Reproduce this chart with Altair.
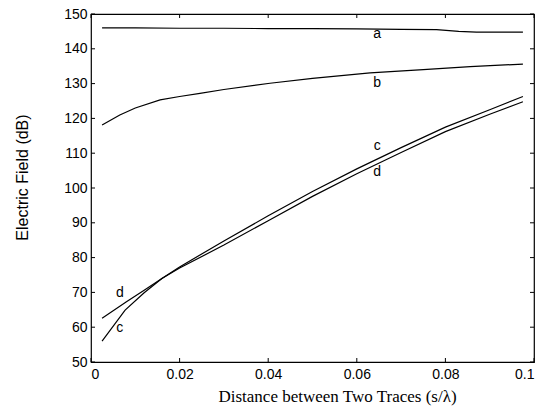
import altair as alt
import pandas as pd

# ---- data ----
a_x = [0.0025, 0.01, 0.02, 0.03, 0.04, 0.05, 0.06, 0.07, 0.078, 0.083, 0.087, 0.0975]
a_y = [146.0, 146.0, 145.9, 145.9, 145.8, 145.8, 145.7, 145.6, 145.5, 145.0, 144.8, 144.8]

b_x = [0.0025, 0.0065, 0.01, 0.0156, 0.02, 0.0246, 0.03, 0.0404, 0.05, 0.063, 0.075, 0.0856, 0.0975]
b_y = [118.1, 121.0, 123.0, 125.3, 126.3, 127.2, 128.3, 130.1, 131.5, 133.1, 134.0, 134.9, 135.6]

c_x = [0.0025, 0.0077, 0.012, 0.016, 0.02, 0.03, 0.04, 0.05, 0.06, 0.07, 0.08, 0.09, 0.0975]
c_y = [56.0, 64.9, 69.9, 74.0, 77.3, 84.8, 92.0, 99.0, 105.5, 111.6, 117.5, 122.5, 126.3]

d_x = [0.0025, 0.008, 0.012, 0.016, 0.02, 0.03, 0.04, 0.05, 0.06, 0.07, 0.08, 0.09, 0.0975]
d_y = [62.6, 67.3, 70.6, 74.0, 77.0, 83.6, 90.6, 97.6, 104.1, 110.2, 116.2, 121.2, 124.8]

label_text = ["a", "b", "c", "d", "d", "c"]
label_x = [0.0646, 0.0646, 0.0646, 0.0646, 0.0065, 0.0065]
label_y = [144.2, 130.2, 112.1, 104.6, 69.8, 59.8]

x_ticks = [0, 0.02, 0.04, 0.06, 0.08, 0.1]
y_ticks = [50, 60, 70, 80, 90, 100, 110, 120, 130, 140, 150]

W, H = 443, 348

rows = []
for name, xs, ys in [("a", a_x, a_y), ("b", b_x, b_y), ("c", c_x, c_y), ("d", d_x, d_y)]:
    for i, (xv, yv) in enumerate(zip(xs, ys)):
        rows.append({"series": name, "x": xv, "y": yv, "order": i})
lines_df = pd.DataFrame(rows)
labels_df = pd.DataFrame({"text": label_text, "x": label_x, "y": label_y})
xt_df = pd.DataFrame({"x": x_ticks})
yt_df = pd.DataFrame({"y": y_ticks})

xscale = alt.Scale(domain=[0, 0.1], nice=False, zero=False)
yscale = alt.Scale(domain=[50, 150], nice=False, zero=False)

xaxis = alt.Axis(
    values=x_ticks, format="~g", title="Distance between Two Traces (s/\u03bb)",
    grid=False, ticks=False, domain=False, labelPadding=5,
    labelFont="Liberation Sans", labelFontSize=14, labelColor="black",
    titleFont="Liberation Serif", titleFontSize=17, titleFontWeight="normal",
    titleColor="black", titlePadding=7, titleX=246,
)
yaxis = alt.Axis(
    values=y_ticks, title="Electric Field (dB)",
    grid=False, ticks=False, domain=False, labelPadding=4,
    labelFont="Liberation Sans", labelFontSize=14, labelColor="black",
    titleFont="Liberation Sans", titleFontSize=16, titleFontWeight="normal",
    titleColor="black", titleX=-61, titleY=163,
)

X = alt.X("x:Q", scale=xscale, axis=xaxis)
Y = alt.Y("y:Q", scale=yscale, axis=yaxis)

lines = alt.Chart(lines_df).mark_line(color="black", strokeWidth=1.2).encode(
    x=X, y=Y, detail="series:N", order="order:Q",
)

labels = alt.Chart(labels_df).mark_text(
    font="Liberation Sans", fontSize=14, color="black", align="center", baseline="middle"
).encode(x=X, y=Y, text="text:N")

tick_len = 4
xt_bottom = alt.Chart(xt_df).mark_rule(color="black", strokeWidth=1).encode(
    x=X, y=alt.value(H), y2=alt.value(H - tick_len))
xt_top = alt.Chart(xt_df).mark_rule(color="black", strokeWidth=1).encode(
    x=X, y=alt.value(0), y2=alt.value(tick_len))
yt_left = alt.Chart(yt_df).mark_rule(color="black", strokeWidth=1).encode(
    y=Y, x=alt.value(0), x2=alt.value(tick_len))
yt_right = alt.Chart(yt_df).mark_rule(color="black", strokeWidth=1).encode(
    y=Y, x=alt.value(W), x2=alt.value(W - tick_len))

chart = alt.layer(lines, labels, xt_bottom, xt_top, yt_left, yt_right).properties(
    width=W, height=H,
    autosize=alt.AutoSizeParams(type="none"),
    padding={"left": 91, "top": 14, "right": 17, "bottom": 50},
    background="white",
).configure_view(stroke="black", strokeWidth=1.2)

chart.save("out.html", embed_options={"renderer": "svg", "actions": False})
